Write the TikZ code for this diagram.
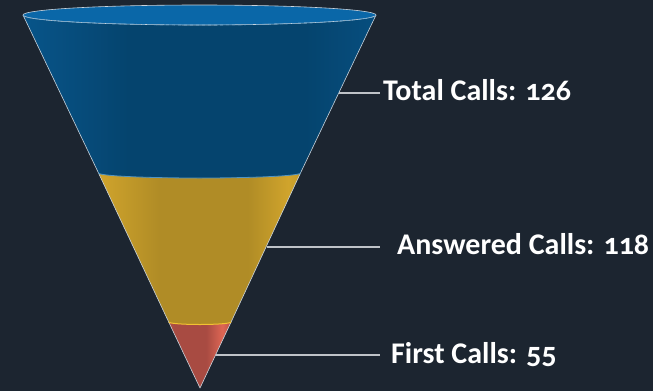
\documentclass[tikz,border=0pt]{standalone}
\usepackage{fontspec}
\setmainfont{Carlito}[Numbers=OldStyle]

\definecolor{bgnavy}{HTML}{1C2530}
\definecolor{bluelite}{HTML}{0A67A8}
\definecolor{bluemid}{HTML}{08588F}
\definecolor{bluedeep}{HTML}{05446E}
\definecolor{yellowlite}{HTML}{F2C232}
\definecolor{yellowmid}{HTML}{D0A42C}
\definecolor{yellowdeep}{HTML}{B08C26}
\definecolor{redlite}{HTML}{DE6654}
\definecolor{redmid}{HTML}{C45848}
\definecolor{reddeep}{HTML}{A84B42}
\definecolor{rimlite}{HTML}{C9D3DC}
\definecolor{leadergray}{HTML}{BFC3C8}

% side-to-side shading for each band of the cone
\pgfdeclarehorizontalshading{blueband}{100bp}{color(0bp)=(bluelite); color(22bp)=(bluemid);
  color(40bp)=(bluedeep); color(65bp)=(bluedeep); color(85bp)=(bluemid); color(100bp)=(bluelite)}
\pgfdeclarehorizontalshading{yellowband}{100bp}{color(0bp)=(yellowlite); color(25bp)=(yellowmid);
  color(40bp)=(yellowdeep); color(62bp)=(yellowdeep); color(72bp)=(yellowmid); color(80bp)=(yellowdeep); color(100bp)=(yellowlite)}
\pgfdeclarehorizontalshading{redband}{100bp}{color(0bp)=(redlite); color(30bp)=(reddeep);
  color(55bp)=(reddeep); color(68bp)=(redlite); color(78bp)=(reddeep); color(100bp)=(redlite)}

\tikzset{
  band/.style={draw=rimlite, line width=0.6pt, line join=round},
  leader/.style={draw=leadergray, line width=1.3pt},
  calllabel/.style={text=white, font=\bfseries\fontsize{30}{34}\selectfont, inner sep=0pt}
}

\begin{document}
\begin{tikzpicture}[x=1pt, y=-1pt]
  \fill[bgnavy] (0,0) rectangle (653,391);
  \useasboundingbox (0,0) rectangle (653,391);

  % bands, drawn bottom up so each lower rim is covered by the band above
  \shade[shading=redband] (168.7,322) -- (200,388) -- (231.1,322) -- cycle;
  \draw[band] (168.7,322) -- (200,388) -- (231.1,322);
  \shade[shading=yellowband] (98.5,173) -- (168.7,322)
    arc[start angle=180, end angle=0, x radius=31.2, y radius=2.5] -- (300.5,173) -- cycle;
  \draw[band] (98.5,173) -- (168.7,322);
  \draw[band] (231.1,322) -- (300.5,173);
  \draw[yellowlite, line width=1pt] (168.7,322)
    arc[start angle=180, end angle=0, x radius=31.2, y radius=2.5];
  \shade[shading=blueband] (23,15) -- (98.5,173)
    arc[start angle=180, end angle=0, x radius=101, y radius=5] -- (376,15) -- cycle;
  \draw[band] (23,15) -- (98.5,173);
  \draw[band] (300.5,173) -- (376,15);
  \draw[bluelite!70!white, line width=0.8pt] (98.5,173)
    arc[start angle=180, end angle=0, x radius=101, y radius=5];

  % open top of the funnel
  \filldraw[fill=bluelite, draw=rimlite, line width=0.6pt] (199.5,15) ellipse[x radius=176.5, y radius=10];
  \draw[bluelite!55!white, line width=0.7pt, dashed] (23,15)
    arc[start angle=180, end angle=0, x radius=176.5, y radius=10];

  % labels and leader lines
  \coordinate (totaledge) at (339,93);
  \coordinate (answerededge) at (266.5,247);
  \coordinate (firstedge) at (215.6,355);
  \coordinate (totalend) at (380,93);
  \coordinate (answeredend) at (380,247);
  \coordinate (firstend) at (380,355);
  \node[calllabel, anchor=base west] (total) at (383,100) {Total Calls: 126};
  \node[calllabel, anchor=base west] (answered) at (397,254) {Answered Calls: 118};
  \node[calllabel, anchor=base west] (first) at (391,363) {First Calls: 55};
  \draw[leader] (totaledge) -- (totalend);
  \draw[leader] (answerededge) -- (answeredend);
  \draw[leader] (firstedge) -- (firstend);
\end{tikzpicture}
\end{document}
